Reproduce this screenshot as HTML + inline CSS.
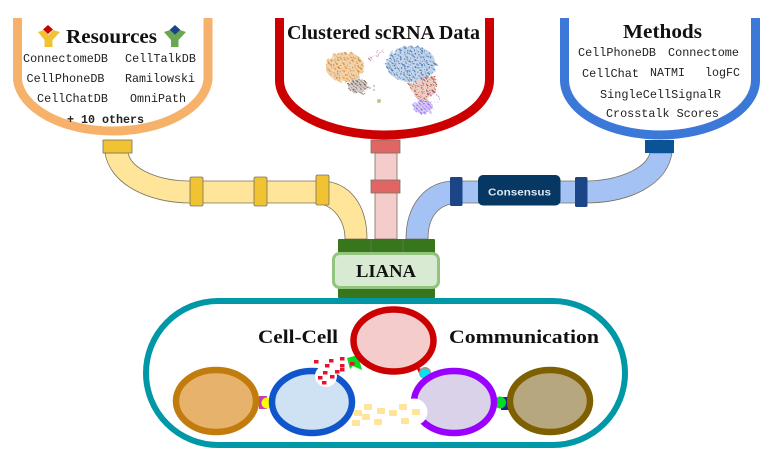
<!DOCTYPE html>
<html><head><meta charset="utf-8"><style>
html,body{margin:0;padding:0;background:#fff;width:783px;height:457px;overflow:hidden}
svg{display:block;filter:blur(.35px)}
.s{font-family:"Liberation Serif",serif;font-weight:bold;fill:#111}
.m{font-family:"Liberation Mono",monospace;font-size:11.8px;fill:#222}
.p{stroke:#77735f;stroke-width:.8}
</style></head><body>
<svg width="783" height="457" viewBox="0 0 783 457" xmlns="http://www.w3.org/2000/svg">
<defs>
<pattern id="po" width="7" height="7" patternUnits="userSpaceOnUse"><rect width="7" height="7" fill="#f1d2aa"/><circle cx="1" cy="1" r="1" fill="#dd9140"/><circle cx="4.500" cy="2" r=".9" fill="#e09a4c"/><circle cx="2.500" cy="4.500" r="1" fill="#d98d3c"/><circle cx="6" cy="5.500" r=".9" fill="#e3a55f"/></pattern>
<pattern id="pb" width="7" height="7" patternUnits="userSpaceOnUse"><rect width="7" height="7" fill="#c4d5ea"/><circle cx="1" cy="1" r="1" fill="#4f7db8"/><circle cx="4.500" cy="2" r="1" fill="#5f8abf"/><circle cx="2.500" cy="4.500" r="1" fill="#4a78b5"/><circle cx="6" cy="5.500" r="1" fill="#6a92c4"/></pattern>
<pattern id="pr" width="6" height="6" patternUnits="userSpaceOnUse"><rect width="6" height="6" fill="#ecd0c8"/><circle cx="1" cy="1" r=".9" fill="#b04a36"/><circle cx="4" cy="2" r=".8" fill="#b85c48"/><circle cx="2.500" cy="4.500" r=".9" fill="#a94634"/></pattern>
<pattern id="pp" width="4" height="4" patternUnits="userSpaceOnUse"><rect width="4" height="4" fill="#d9ccf8"/><circle cx="1" cy="1" r=".9" fill="#8060e6"/><circle cx="3" cy="3" r=".8" fill="#8f70ea"/></pattern>
<pattern id="pg" width="4" height="4" patternUnits="userSpaceOnUse"><rect width="4" height="4" fill="#d8cfca"/><circle cx="1" cy="1" r=".9" fill="#6d5a54"/><circle cx="3" cy="3" r=".8" fill="#7d6a62"/></pattern>
<filter id="rough" x="-10%" y="-10%" width="120%" height="120%"><feTurbulence type="fractalNoise" baseFrequency=".3" numOctaves="2" seed="4" result="n"/><feDisplacementMap in="SourceGraphic" in2="n" scale="7"/></filter>
</defs>

<!-- pipes -->
<path class="p" fill="#ffe599" d="M105 153C110 185 150 203 190 203H316C335 205 345 222 345 239H367C367 205 350 181 320 181H190C160 181 132 170 128 153Z"/>
<rect class="p" x="375" y="153" width="22" height="86" fill="#f4cccc"/>
<path class="p" fill="#a4c2f4" d="M672 153C667 185 630 203 585 203H460C440 203 428 215 428 239H406C406 205 425 181 455 181H585C615 181 645 170 650 153Z"/>

<g class="p" fill="#f1c232">
<rect x="103" y="140" width="29" height="13"/>
<rect x="190" y="177" width="13" height="29" rx="1.500"/>
<rect x="254" y="177" width="13" height="29" rx="1.500"/>
<rect x="316" y="175" width="13" height="30" rx="1.500"/>
</g>
<g class="p" fill="#e06666">
<rect x="371" y="140" width="29" height="13"/>
<rect x="371" y="180" width="29" height="13"/>
</g>
<rect x="645" y="140" width="29" height="13" fill="#0b5394"/>
<rect x="450" y="177" width="12.500" height="29" rx="1.500" fill="#1c4587"/>
<rect x="575" y="177" width="12.500" height="30" rx="1.500" fill="#1c4587"/>
<rect x="478" y="175" width="82.500" height="30.500" rx="5" fill="#073763"/>
<text x="488" y="195.500" textLength="63" lengthAdjust="spacingAndGlyphs" font-family="Liberation Sans,sans-serif" font-weight="bold" font-size="10.500" fill="#dce8f5">Consensus</text>

<!-- bowls -->
<path d="M17.500 18V80A95.500 55 0 0 0 208 80V18" fill="#fff" stroke="#f6b26b" stroke-width="9"/>
<path d="M279.500 18V80A105 55 0 0 0 489.500 80V18" fill="#fff" stroke="#cc0000" stroke-width="9"/>
<path d="M564.500 18V80A95.500 55 0 0 0 755.500 80V18" fill="#fff" stroke="#3c78d8" stroke-width="9"/>

<!-- resources -->
<path d="M48 25L53 29.500 48 34 43 29.500Z" fill="#cc0000"/>
<path d="M38 32L44 30 48.500 35 53 30 60 32 52.500 40V47H44.500V40Z" fill="#f1c232"/>
<path d="M175 25L180.500 30 175 35 169.500 30Z" fill="#1c4587"/>
<path d="M164 32L170 30 175 35 180 30 186 32 178.500 40V47H171V40Z" fill="#6aa84f"/>
<text class="s" x="66" y="43" font-size="20" textLength="91" lengthAdjust="spacingAndGlyphs">Resources</text>
<text class="m" x="23" y="62" textLength="85" lengthAdjust="spacingAndGlyphs">ConnectomeDB</text>
<text class="m" x="125" y="62" textLength="71" lengthAdjust="spacingAndGlyphs">CellTalkDB</text>
<text class="m" x="26.500" y="82" textLength="78" lengthAdjust="spacingAndGlyphs">CellPhoneDB</text>
<text class="m" x="125" y="82" textLength="70" lengthAdjust="spacingAndGlyphs">Ramilowski</text>
<text class="m" x="37" y="102" textLength="71" lengthAdjust="spacingAndGlyphs">CellChatDB</text>
<text class="m" x="130" y="102" textLength="56" lengthAdjust="spacingAndGlyphs">OmniPath</text>
<text class="m" x="67" y="123" textLength="77" lengthAdjust="spacingAndGlyphs" font-weight="bold">+ 10 others</text>

<!-- scRNA -->
<text class="s" x="287" y="39" font-size="20" textLength="193" lengthAdjust="spacingAndGlyphs">Clustered scRNA Data</text>
<g filter="url(#rough)">
<ellipse cx="345" cy="67" rx="19" ry="15" fill="url(#po)"/>
<ellipse cx="358" cy="86" rx="10" ry="7.500" fill="url(#pg)"/>
<path d="M369 60L384 50" stroke="#cf94bd" stroke-width="1.800" stroke-dasharray="1.500 1"/>
<ellipse cx="411" cy="64" rx="25" ry="18" fill="url(#pb)"/>
<path d="M408 84L436 75 437 88 425 104 417 99Z" fill="url(#pr)"/>
<ellipse cx="423" cy="107" rx="10" ry="7" fill="url(#pp)"/>
<ellipse cx="432" cy="98" rx="7" ry="4" fill="none" stroke="#a88be8" stroke-width="1" stroke-dasharray="1.500 1.500"/>
</g>
<circle cx="379" cy="101" r="2" fill="#b5c98a"/>
<g fill="#8d7f7a"><circle cx="370" cy="88" r=".7"/><circle cx="374" cy="90" r=".7"/><circle cx="374" cy="86" r=".7"/></g>

<!-- methods -->
<text class="s" x="623" y="38" font-size="20" textLength="79" lengthAdjust="spacingAndGlyphs">Methods</text>
<text class="m" x="578" y="56" textLength="78" lengthAdjust="spacingAndGlyphs">CellPhoneDB</text>
<text class="m" x="668" y="56" textLength="71" lengthAdjust="spacingAndGlyphs">Connectome</text>
<text class="m" x="582" y="77" textLength="57" lengthAdjust="spacingAndGlyphs">CellChat</text>
<text class="m" x="650" y="76" textLength="35" lengthAdjust="spacingAndGlyphs">NATMI</text>
<text class="m" x="705" y="76" textLength="35" lengthAdjust="spacingAndGlyphs">logFC</text>
<text class="m" x="600" y="98" textLength="121" lengthAdjust="spacingAndGlyphs">SingleCellSignalR</text>
<text class="m" x="606" y="117" textLength="113" lengthAdjust="spacingAndGlyphs">Crosstalk Scores</text>

<!-- LIANA -->
<rect x="338" y="239" width="97" height="59" rx="1" fill="#38761d"/>
<g stroke="#5f7a50" stroke-width=".8"><path d="M371 239v13M403 239v13"/></g>
<rect x="333.500" y="253.500" width="105" height="34" rx="6" fill="#d9ead3" stroke="#93c47d" stroke-width="3"/>
<text class="s" x="356" y="277" font-size="17.500" textLength="60" lengthAdjust="spacingAndGlyphs">LIANA</text>

<!-- capsule -->
<rect x="146" y="301" width="479" height="144" rx="72" fill="#fff" stroke="#0097a7" stroke-width="6"/>
<text class="s" x="258" y="343" font-size="19" textLength="80" lengthAdjust="spacingAndGlyphs">Cell-Cell</text>
<text class="s" x="449" y="343" font-size="19" textLength="150" lengthAdjust="spacingAndGlyphs">Communication</text>

<!-- connectors -->
<rect x="259" y="396" width="8" height="13" fill="#c83cb8"/>
<circle cx="267" cy="403" r="5.500" fill="#ffff00"/>
<path d="M416 367L420 375 427 371Z" fill="#cc0000"/>
<circle cx="425" cy="373" r="6" fill="#999"/>
<circle cx="425" cy="374" r="5" fill="#00e5ee"/>
<rect x="501" y="397" width="8" height="13" fill="#20208a"/>
<circle cx="500" cy="402.500" r="6" fill="#00dd22"/>
<path d="M347 358L358 355 362 370 353 366 350 369Z" fill="#00dd22"/>

<!-- cells -->
<ellipse cx="216" cy="401" rx="40" ry="31" fill="#e6b26c" stroke="#c27c0e" stroke-width="6.500"/>
<ellipse cx="312" cy="402" rx="40" ry="31" fill="#cfe2f3" stroke="#1155cc" stroke-width="6.500"/>
<ellipse cx="393.500" cy="340.500" rx="40" ry="31" fill="#f4cccc" stroke="#cc0000" stroke-width="6.500"/>
<ellipse cx="454" cy="402" rx="40" ry="31" fill="#d9d2e9" stroke="#9900ff" stroke-width="6.500"/>
<ellipse cx="550" cy="401" rx="40" ry="31" fill="#b7a77e" stroke="#7f6000" stroke-width="6.500"/>

<circle cx="326" cy="376" r="11" fill="#fff"/>
<circle cx="414" cy="412" r="13.500" fill="#fff"/>
<rect x="395" y="405" width="20" height="20" fill="#fff"/>

<!-- red ligands -->
<g fill="#e8112d">
<rect x="314" y="360" width="4.500" height="3.500"/><rect x="329" y="359" width="4.500" height="3.500"/><rect x="340" y="357" width="4.500" height="3.500"/>
<rect x="325" y="364" width="4.500" height="3.500"/><rect x="340" y="364" width="4.500" height="3.500"/><rect x="350" y="362" width="4.500" height="3.500"/>
<rect x="340" y="368" width="4.500" height="3.500"/><rect x="335" y="370" width="4.500" height="3.500"/><rect x="323" y="371" width="4.500" height="3.500"/>
<rect x="330" y="375" width="4.500" height="3.500"/><rect x="318" y="376" width="4.500" height="3.500"/><rect x="322" y="381" width="4.500" height="3.500"/>
</g>
<!-- yellow ligands -->
<g fill="#ffe599">
<rect x="364" y="404" width="8" height="6" rx="1"/><rect x="354" y="410" width="8" height="6" rx="1"/>
<rect x="362" y="414" width="8" height="6" rx="1"/><rect x="352" y="420" width="8" height="6" rx="1"/>
<rect x="377" y="408" width="8" height="6" rx="1"/><rect x="374" y="419" width="8" height="6" rx="1"/>
<rect x="389" y="410" width="8" height="6" rx="1"/><rect x="399" y="404" width="8" height="6" rx="1"/>
<rect x="412" y="409" width="8" height="6" rx="1"/><rect x="401" y="418" width="8" height="6" rx="1"/>
</g>
</svg>
</body></html>
